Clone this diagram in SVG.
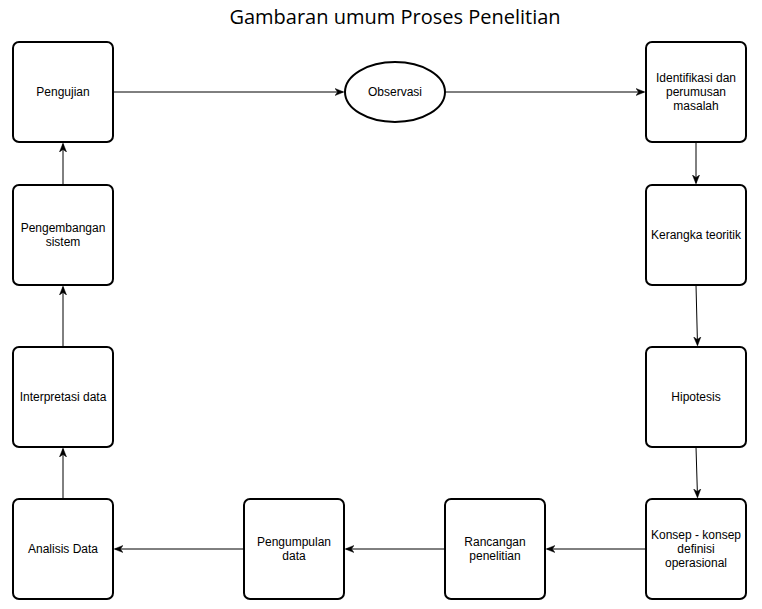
<svg xmlns="http://www.w3.org/2000/svg" width="762" height="609" viewBox="0 0 762 609">
<style>
.box{fill:#fff;stroke:#000;stroke-width:2}
.lbl{font-family:"Liberation Sans",Arial,sans-serif;font-size:12px;fill:#000;text-anchor:middle}
.edge{fill:none;stroke:#000;stroke-width:1}
.title{font-family:"Open Sans","Noto Sans",sans-serif;font-size:20px;fill:#000;text-anchor:middle}
</style>
<defs>
<marker id="arr" viewBox="0 0 10 10" refX="9" refY="5" markerWidth="9" markerHeight="9" markerUnits="userSpaceOnUse" orient="auto">
<path d="M0,1 L10,5 L0,9 L3,5 Z" fill="#000" stroke="#000" stroke-width="0.5"/>
</marker>
</defs>
<rect width="762" height="609" fill="#fff"/>
<text class="title" x="395" y="24">Gambaran umum Proses Penelitian</text>
<g id="connectors">
<path class="edge" d="M113,92 L343,92" marker-end="url(#arr)"/>
<path class="edge" d="M445,92 L644,92" marker-end="url(#arr)"/>
<path class="edge" d="M696,142 L696,183" marker-end="url(#arr)"/>
<path class="edge" d="M696,285 L697.5,345" marker-end="url(#arr)"/>
<path class="edge" d="M696,447 L697.5,497" marker-end="url(#arr)"/>
<path class="edge" d="M646,549 L547,549" marker-end="url(#arr)"/>
<path class="edge" d="M445,549 L346,549" marker-end="url(#arr)"/>
<path class="edge" d="M244,549 L115,549" marker-end="url(#arr)"/>
<path class="edge" d="M63,499 L63,449" marker-end="url(#arr)"/>
<path class="edge" d="M63,347 L63,287" marker-end="url(#arr)"/>
<path class="edge" d="M63,185 L63,144" marker-end="url(#arr)"/>
</g>
<g id="pengujian"><rect class="box" x="13" y="42" width="100" height="100" rx="6"/><text class="lbl" x="63" y="96">Pengujian</text></g>
<g id="observasi"><ellipse class="box" cx="395" cy="92" rx="50" ry="30"/><text class="lbl" x="395" y="96">Observasi</text></g>
<g id="identifikasi"><rect class="box" x="646" y="42" width="100" height="100" rx="6"/><text class="lbl" x="696" y="82">Identifikasi dan</text><text class="lbl" x="696" y="96">perumusan</text><text class="lbl" x="696" y="110">masalah</text></g>
<g id="kerangka"><rect class="box" x="646" y="185" width="100" height="100" rx="6"/><text class="lbl" x="696" y="239">Kerangka teoritik</text></g>
<g id="hipotesis"><rect class="box" x="646" y="347" width="100" height="100" rx="6"/><text class="lbl" x="696" y="401">Hipotesis</text></g>
<g id="konsep"><rect class="box" x="646" y="499" width="100" height="100" rx="6"/><text class="lbl" x="696" y="539">Konsep - konsep</text><text class="lbl" x="696" y="553">definisi</text><text class="lbl" x="696" y="567">operasional</text></g>
<g id="rancangan"><rect class="box" x="445" y="499" width="100" height="100" rx="6"/><text class="lbl" x="495" y="546">Rancangan</text><text class="lbl" x="495" y="560">penelitian</text></g>
<g id="pengumpulan"><rect class="box" x="244" y="499" width="100" height="100" rx="6"/><text class="lbl" x="294" y="546">Pengumpulan</text><text class="lbl" x="294" y="560">data</text></g>
<g id="analisis"><rect class="box" x="13" y="499" width="100" height="100" rx="6"/><text class="lbl" x="63" y="553">Analisis Data</text></g>
<g id="interpretasi"><rect class="box" x="13" y="347" width="100" height="100" rx="6"/><text class="lbl" x="63" y="401">Interpretasi data</text></g>
<g id="pengembangan"><rect class="box" x="13" y="185" width="100" height="100" rx="6"/><text class="lbl" x="63" y="232">Pengembangan</text><text class="lbl" x="63" y="246">sistem</text></g>
</svg>
